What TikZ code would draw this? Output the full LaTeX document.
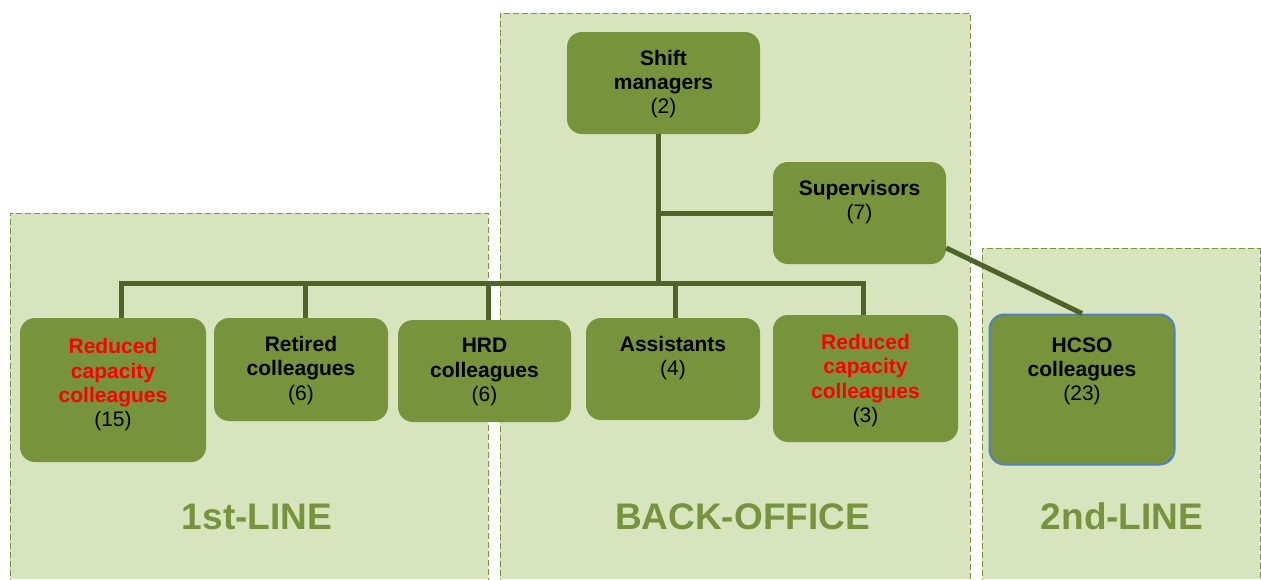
\documentclass[tikz,border=0pt]{standalone}
\usepackage{fontspec}
\setmainfont{Liberation Sans}
\usetikzlibrary{calc}
\definecolor{panelfill}{HTML}{D7E4BD}
\definecolor{boxfill}{HTML}{77933C}
\definecolor{linkcol}{HTML}{4F6228}
\definecolor{hcsoblue}{HTML}{4F81BD}
\definecolor{redtxt}{HTML}{FF0000}
\tikzset{
  panel/.style={fill=panelfill},
  panelborder/.style={draw=boxfill, line width=0.8pt, dash pattern=on 6pt off 3pt},
  orgbox/.style={rectangle, rounded corners=15pt, fill=boxfill, inner sep=0pt},
  boxtext/.style={align=center, font=\fontsize{21}{24.3}\selectfont, text=black, inner sep=0pt},
  link/.style={draw=linkcol, line width=5pt},
  zonelabel/.style={font=\fontsize{37}{40}\selectfont\bfseries, text=boxfill, anchor=base, inner sep=0pt}
}
\begin{document}
\begin{tikzpicture}[x=1pt,y=-1pt]
\useasboundingbox (0,0) rectangle (1261,579);
% panels
\fill[panel] (10,213) rectangle (488,579);
\draw[panelborder] (10,585) -- (10,213) -- (488,213) -- (488,585);
\fill[panel] (500,13) rectangle (970,579);
\draw[panelborder] (500,585) -- (500,13) -- (970,13) -- (970,585);
\fill[panel] (982,248) rectangle (1261,579);
\draw[panelborder] (982,585) -- (982,248) -- (1262,248);
\draw[panelborder] (1260.5,248) -- (1260.5,585);
% zone labels
\node[zonelabel] (zl1) at (257,529) {1st-LINE};
\node[zonelabel] (zl2) at (742.5,529) {BACK-OFFICE};
\node[zonelabel] (zl3) at (1122,529) {2nd-LINE};
% boxes
\node[orgbox, minimum width=193pt, minimum height=102pt] (sm) at (663.5,83) {};
\node[orgbox, minimum width=173pt, minimum height=102pt] (sup) at (859.5,213) {};
\node[orgbox, minimum width=186pt, minimum height=144pt] (rc1) at (113,390) {};
\node[orgbox, minimum width=174pt, minimum height=103pt] (ret) at (301,369.5) {};
\node[orgbox, minimum width=173pt, minimum height=102pt] (hrd) at (484.5,371) {};
\node[orgbox, minimum width=174pt, minimum height=102pt] (asst) at (673,369) {};
\node[orgbox, minimum width=185pt, minimum height=127pt] (rc2) at (865.5,378.5) {};
\node[orgbox, draw=hcsoblue, line width=2pt, minimum width=185pt, minimum height=150pt] (hcso) at (1082,389.5) {};
% connectors
\coordinate (d0) at (658,283);
\coordinate (d1) at (121,283);
\coordinate (d2) at (305,283);
\coordinate (d3) at (488,283);
\coordinate (d4) at (675,283);
\coordinate (d5) at (863,283);
\draw[link] ($(d1)+(-2.5,0)$) -- ($(d5)+(2.5,0)$);
\draw[link] (d0 |- sm.south) -- (d0);
\draw[link] (d0 |- sup.west) -- (sup.west);
\draw[link] (d1) -- (d1 |- rc1.north);
\draw[link] (d2) -- (d2 |- ret.north);
\draw[link] (d3) -- (d3 |- hrd.north);
\draw[link] (d4) -- (d4 |- asst.north);
\draw[link] (d5) -- (d5 |- rc2.north);
\draw[link] ($(sup.east)+(0,35)$) -- (hcso.north);
% box texts
\node[boxtext, yshift=-1pt] (tsm) at (sm) {\textbf{Shift}\\\textbf{managers}\\(2)};
\node[boxtext, yshift=11pt] (tsup) at (sup) {\textbf{Supervisors}\\(7)};
\node[boxtext, yshift=5pt] (trc1) at (rc1) {\textcolor{redtxt}{\textbf{Reduced}}\\\textcolor{redtxt}{\textbf{capacity}}\\\textcolor{redtxt}{\textbf{colleagues}}\\(15)};
\node[boxtext, yshift=-1pt] (tret) at (ret) {\textbf{Retired}\\\textbf{colleagues}\\(6)};
\node[boxtext, yshift=-1pt] (thrd) at (hrd) {\textbf{HRD}\\\textbf{colleagues}\\(6)};
\node[boxtext, yshift=11pt] (tasst) at (asst) {\textbf{Assistants}\\(4)};
\node[boxtext, yshift=-2pt] (trc2) at (rc2) {\textcolor{redtxt}{\textbf{Reduced}}\\\textcolor{redtxt}{\textbf{capacity}}\\\textcolor{redtxt}{\textbf{colleagues}}\\(3)};
\node[boxtext, yshift=18pt] (thcso) at (hcso) {\textbf{HCSO}\\\textbf{colleagues}\\(23)};
\end{tikzpicture}
\end{document}
